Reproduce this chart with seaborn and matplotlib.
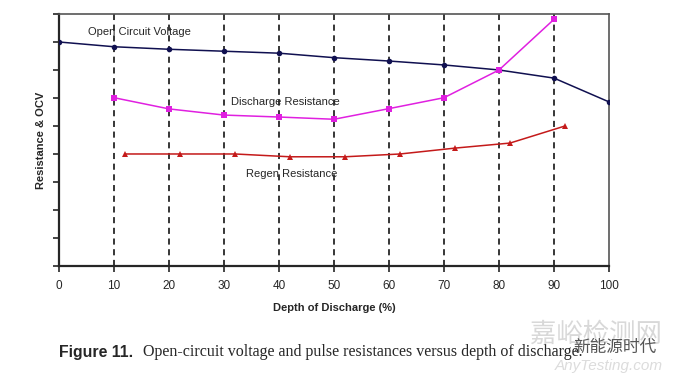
import numpy as np
import pandas as pd
import matplotlib.pyplot as plt
import seaborn as sns

# values (y in tick units, no labels on the y axis)
dod_ocv = [0, 10, 20, 30, 40, 50, 60, 70, 80, 90, 100]
ocv = [8.0, 7.83, 7.74, 7.67, 7.6, 7.44, 7.32, 7.18, 7.0, 6.71, 5.86]

dod_dis = [10, 20, 30, 40, 50, 60, 70, 80, 90]
dis_res = [6.01, 5.61, 5.39, 5.32, 5.24, 5.62, 6.01, 7.0, 8.81]

dod_regen = [12, 22, 32, 42, 52, 62, 72, 82, 92]
regen_res = [4.0, 4.0, 4.0, 3.9, 3.9, 4.0, 4.21, 4.39, 5.0]

x_ticks = list(range(0, 101, 10))
grid_x = list(range(10, 91, 10))

sns.set_style("ticks")
plt.rcParams["font.family"] = ["Liberation Sans", "DejaVu Sans"]

fig = plt.figure(figsize=(6.8, 3.76), dpi=100)
ax = fig.add_axes([0.0868, 0.2926, 0.8088, 0.6702])

for gx in grid_x:
    ax.axvline(gx, color="black", ls=(0, (4, 3)), lw=1.1, zorder=1)

sns.lineplot(x=dod_ocv, y=ocv, ax=ax, color="#101050", lw=1.1,
             marker="o", markersize=4, markeredgewidth=0, zorder=3)
sns.lineplot(x=dod_dis, y=dis_res, ax=ax, color="#e020e0", lw=1.1,
             marker="s", markersize=5, markeredgewidth=0, zorder=3)
sns.lineplot(x=dod_regen, y=regen_res, ax=ax, color="#c41a1a", lw=1.1,
             marker="^", markersize=5, markeredgewidth=0, zorder=3)

ax.text(5.3, 8.36, "Open Circuit Voltage", fontsize=8, va="center")
ax.text(31.3, 5.86, "Discharge Resistance", fontsize=8, va="center")
ax.text(34, 3.29, "Regen Resistance", fontsize=8, va="center")

ax.set_xlim(0, 100)
ax.set_ylim(0, 9)
ax.set_xticks(x_ticks)
ax.set_yticks(range(0, 10))
ax.set_yticklabels([])
ax.tick_params(axis="x", labelsize=8.5, length=4, width=1.2, pad=6)
ax.tick_params(axis="y", length=4, width=1.2)
ax.set_xlabel("Depth of Discharge (%)", fontsize=8, fontweight="bold", labelpad=8)
ax.set_ylabel("Resistance & OCV", fontsize=8, fontweight="bold", labelpad=2)

ax.spines["left"].set_linewidth(1.6)
ax.spines["bottom"].set_linewidth(1.6)
ax.spines["top"].set_color("#555555")
ax.spines["right"].set_color("#555555")
ax.spines["top"].set_linewidth(1.2)
ax.spines["right"].set_linewidth(1.2)

# caption
fig.text(59 / 680, 1 - 352 / 376, "Figure 11.", fontsize=11.4, fontweight="bold",
         va="center")
fig.text(143 / 680, 1 - 352 / 376,
         "Open-circuit voltage and pulse resistances versus depth of discharge.",
         fontsize=11.5, family="Liberation Serif", va="center")

# watermark
fig.text(530 / 680, 1 - 334 / 376, "嘉峪检测网", fontsize=19, color="#d8d8d8",
         family=["Noto Sans CJK SC"], va="center", zorder=5)
fig.text(555 / 680, 1 - 366 / 376, "AnyTesting.com", fontsize=11, color="#dcdcdc",
         style="italic", va="center", zorder=5)
fig.text(573 / 680, 1 - 347 / 376, "新能源时代", fontsize=12, color="#555555",
         family=["Noto Sans CJK SC"], va="center", zorder=6)

fig.savefig("out.png", dpi=100)
